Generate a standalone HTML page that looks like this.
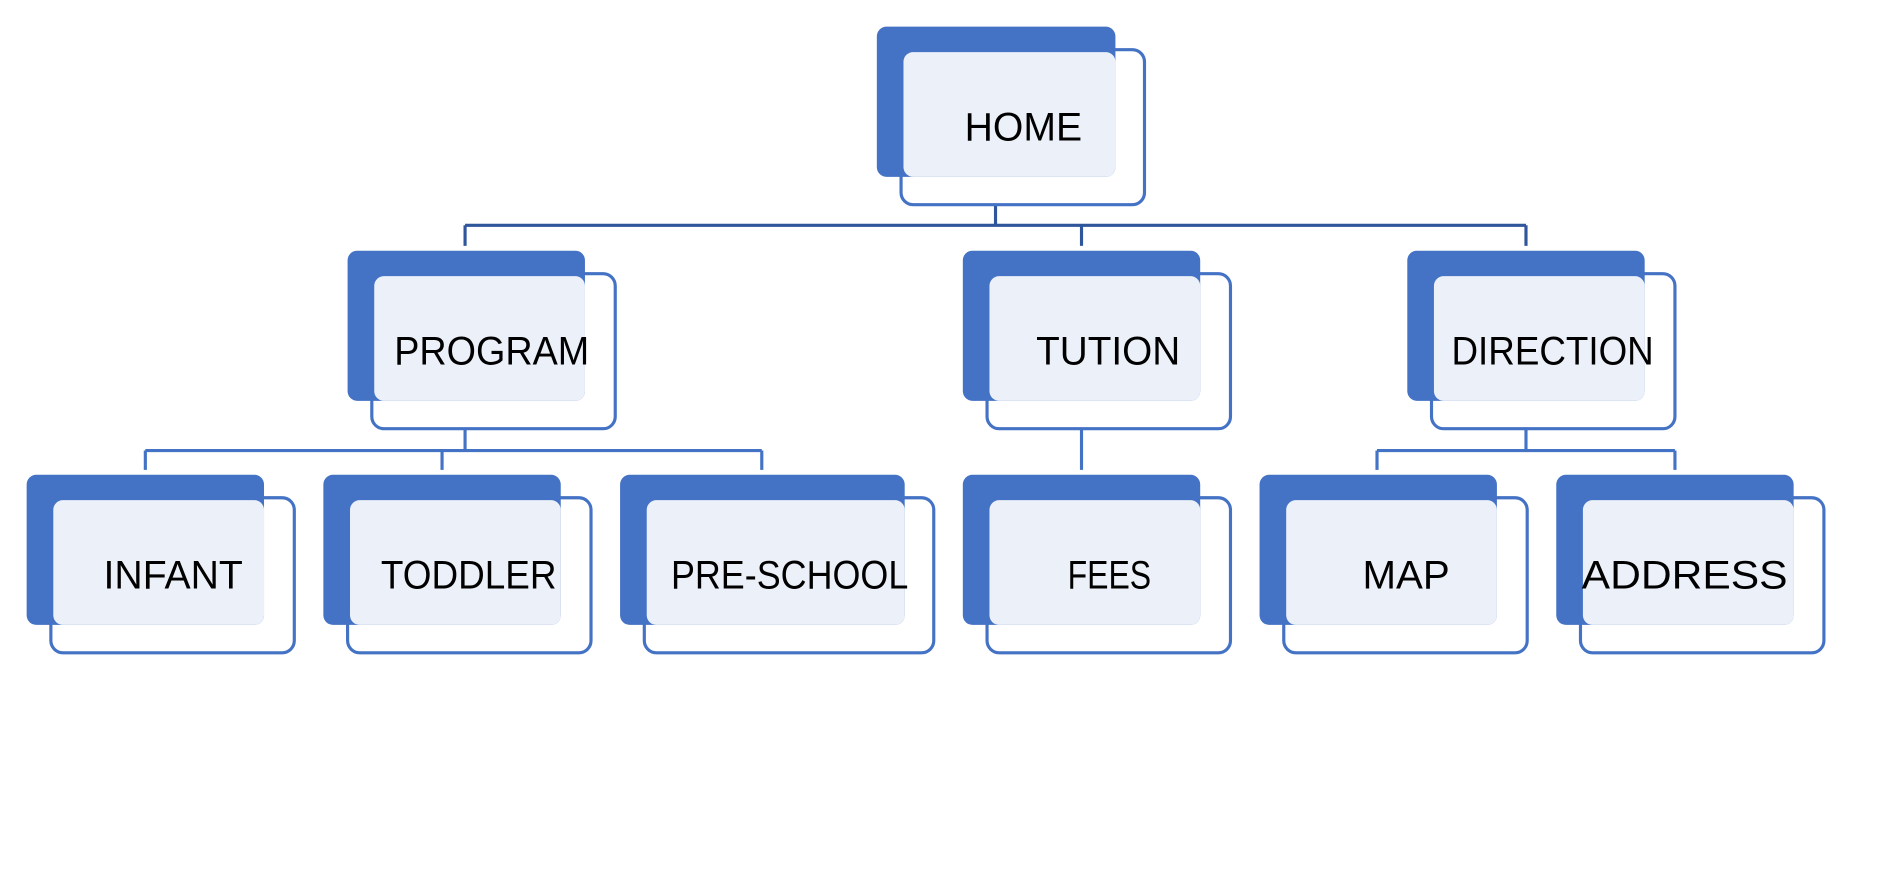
<!DOCTYPE html>
<html><head><meta charset="utf-8"><style>html,body{margin:0;padding:0;background:#fff}svg{display:block}</style></head>
<body>
<svg width="1899" height="887" viewBox="0 0 1568 732.4" preserveAspectRatio="none" xmlns="http://www.w3.org/2000/svg" font-family="Liberation Sans, sans-serif">
<g fill="none" stroke-width="2.6">
<g stroke="#2F559A">
<line x1="822" y1="169" x2="822" y2="186"/>
<line x1="384" y1="186" x2="1260" y2="186"/>
<line x1="384" y1="186" x2="384" y2="203"/>
<line x1="893" y1="186" x2="893" y2="203"/>
<line x1="1260" y1="186" x2="1260" y2="203"/>
</g>
<g stroke="#4472C4">
<line x1="384" y1="353" x2="384" y2="372"/>
<line x1="120" y1="372" x2="629" y2="372"/>
<line x1="120" y1="372" x2="120" y2="388"/>
<line x1="365" y1="372" x2="365" y2="388"/>
<line x1="629" y1="372" x2="629" y2="388"/>
<line x1="893" y1="353" x2="893" y2="388"/>
<line x1="1260" y1="353" x2="1260" y2="372"/>
<line x1="1137" y1="372" x2="1383" y2="372"/>
<line x1="1137" y1="372" x2="1137" y2="388"/>
<line x1="1383" y1="372" x2="1383" y2="388"/>
</g>
<g stroke="#E3E9F5">
<line x1="822" y1="149" x2="822" y2="168"/>
<line x1="384" y1="334" x2="384" y2="352"/>
<line x1="893" y1="334" x2="893" y2="352"/>
<line x1="1260" y1="334" x2="1260" y2="352"/>
</g>
</g>
<g>
<rect x="744" y="41" width="201" height="128" rx="10" fill="#fff" stroke="#4472C4" stroke-width="2.6"/>
<rect x="724" y="22" width="197" height="124" rx="8" fill="#4472C4"/>
<rect x="746" y="43" width="175" height="103" rx="8" fill="#ECF0F9"/>
<text x="845" y="116" font-size="33" text-anchor="middle" textLength="97" lengthAdjust="spacingAndGlyphs">HOME</text>
</g>
<g>
<rect x="307" y="226" width="201" height="128" rx="10" fill="#fff" stroke="#4472C4" stroke-width="2.6"/>
<rect x="287" y="207" width="196" height="124" rx="8" fill="#4472C4"/>
<rect x="309" y="228" width="174" height="103" rx="8" fill="#ECF0F9"/>
<text x="406" y="301" font-size="33" text-anchor="middle" textLength="161" lengthAdjust="spacingAndGlyphs">PROGRAM</text>
</g>
<g>
<rect x="815" y="226" width="201" height="128" rx="10" fill="#fff" stroke="#4472C4" stroke-width="2.6"/>
<rect x="795" y="207" width="196" height="124" rx="8" fill="#4472C4"/>
<rect x="817" y="228" width="174" height="103" rx="8" fill="#ECF0F9"/>
<text x="915" y="301" font-size="33" text-anchor="middle" textLength="119" lengthAdjust="spacingAndGlyphs">TUTION</text>
</g>
<g>
<rect x="1182" y="226" width="201" height="128" rx="10" fill="#fff" stroke="#4472C4" stroke-width="2.6"/>
<rect x="1162" y="207" width="196" height="124" rx="8" fill="#4472C4"/>
<rect x="1184" y="228" width="174" height="103" rx="8" fill="#ECF0F9"/>
<text x="1282" y="301" font-size="33" text-anchor="middle" textLength="167" lengthAdjust="spacingAndGlyphs">DIRECTION</text>
</g>
<g>
<rect x="42" y="411" width="201" height="128" rx="10" fill="#fff" stroke="#4472C4" stroke-width="2.6"/>
<rect x="22" y="392" width="196" height="124" rx="8" fill="#4472C4"/>
<rect x="44" y="413" width="174" height="103" rx="8" fill="#ECF0F9"/>
<text x="143" y="486" font-size="33" text-anchor="middle" textLength="115" lengthAdjust="spacingAndGlyphs">INFANT</text>
</g>
<g>
<rect x="287" y="411" width="201" height="128" rx="10" fill="#fff" stroke="#4472C4" stroke-width="2.6"/>
<rect x="267" y="392" width="196" height="124" rx="8" fill="#4472C4"/>
<rect x="289" y="413" width="174" height="103" rx="8" fill="#ECF0F9"/>
<text x="387" y="486" font-size="33" text-anchor="middle" textLength="145" lengthAdjust="spacingAndGlyphs">TODDLER</text>
</g>
<g>
<rect x="532" y="411" width="239" height="128" rx="10" fill="#fff" stroke="#4472C4" stroke-width="2.6"/>
<rect x="512" y="392" width="235" height="124" rx="8" fill="#4472C4"/>
<rect x="534" y="413" width="213" height="103" rx="8" fill="#ECF0F9"/>
<text x="652" y="486" font-size="33" text-anchor="middle" textLength="196" lengthAdjust="spacingAndGlyphs">PRE-SCHOOL</text>
</g>
<g>
<rect x="815" y="411" width="201" height="128" rx="10" fill="#fff" stroke="#4472C4" stroke-width="2.6"/>
<rect x="795" y="392" width="196" height="124" rx="8" fill="#4472C4"/>
<rect x="817" y="413" width="174" height="103" rx="8" fill="#ECF0F9"/>
<text x="916" y="486" font-size="33" text-anchor="middle" textLength="69" lengthAdjust="spacingAndGlyphs">FEES</text>
</g>
<g>
<rect x="1060" y="411" width="201" height="128" rx="10" fill="#fff" stroke="#4472C4" stroke-width="2.6"/>
<rect x="1040" y="392" width="196" height="124" rx="8" fill="#4472C4"/>
<rect x="1062" y="413" width="174" height="103" rx="8" fill="#ECF0F9"/>
<text x="1161" y="486" font-size="33" text-anchor="middle" textLength="72" lengthAdjust="spacingAndGlyphs">MAP</text>
</g>
<g>
<rect x="1305" y="411" width="201" height="128" rx="10" fill="#fff" stroke="#4472C4" stroke-width="2.6"/>
<rect x="1285" y="392" width="196" height="124" rx="8" fill="#4472C4"/>
<rect x="1307" y="413" width="174" height="103" rx="8" fill="#ECF0F9"/>
<text x="1391" y="486" font-size="33" text-anchor="middle" textLength="170" lengthAdjust="spacingAndGlyphs">ADDRESS</text>
</g>
</svg>
</body></html>
